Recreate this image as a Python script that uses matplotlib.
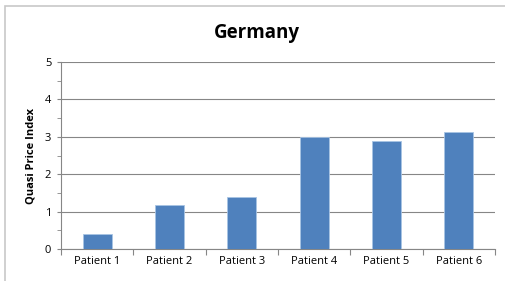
import matplotlib.pyplot as plt
import numpy as np
from matplotlib.patches import Rectangle

categories = ['Patient 1', 'Patient 2', 'Patient 3', 'Patient 4', 'Patient 5', 'Patient 6']
values = [0.40, 1.18, 1.38, 3.00, 2.90, 3.14]

plt.rcParams['font.family'] = ['Open Sans', 'DejaVu Sans']

fig = plt.figure(figsize=(5.05, 2.81), dpi=100)
ax = fig.add_axes([61 / 505, 1 - 249 / 281, 434 / 505, 187 / 281])

# outer chart frame
fig.patches.append(Rectangle((5 / 505, -0.01), 1.0, 1 - 6 / 281 + 0.01,
                             transform=fig.transFigure, fill=False,
                             edgecolor='#c8c8c8', linewidth=1.2))

x = np.arange(len(categories))
ax.bar(x, values, width=0.4, color='#4f81bd', edgecolor='#a8c4e4', linewidth=0.6, zorder=3)

ax.set_xlim(-0.5, len(categories) - 0.5)
ax.set_ylim(0, 5)
ax.set_yticks(range(6))
ax.set_yticks(np.arange(0, 5.01, 0.5), minor=True)
ax.yaxis.grid(True, color='#868686', linewidth=0.8, zorder=0)

ax.set_xticks(np.arange(-0.5, len(categories), 1))
ax.set_xticklabels([])
ax.set_xticks(x, minor=True)
ax.set_xticklabels(categories, minor=True, fontsize=8)
ax.tick_params(axis='x', which='minor', length=0, pad=5)
ax.tick_params(axis='x', which='major', length=4, color='#868686')
ax.tick_params(axis='y', which='both', length=3, color='#868686', labelsize=8, pad=4)

for s in ['top', 'right']:
    ax.spines[s].set_visible(False)
for s in ['left', 'bottom']:
    ax.spines[s].set_color('#868686')
    ax.spines[s].set_linewidth(0.8)

ax.set_ylabel('Quasi Price Index', fontsize=8, fontweight='bold', labelpad=6)
fig.text(0.508, 1 - 33 / 281, 'Germany', ha='center', va='center', fontsize=13.5, fontweight='bold')

fig.savefig('out.png', dpi=100)
